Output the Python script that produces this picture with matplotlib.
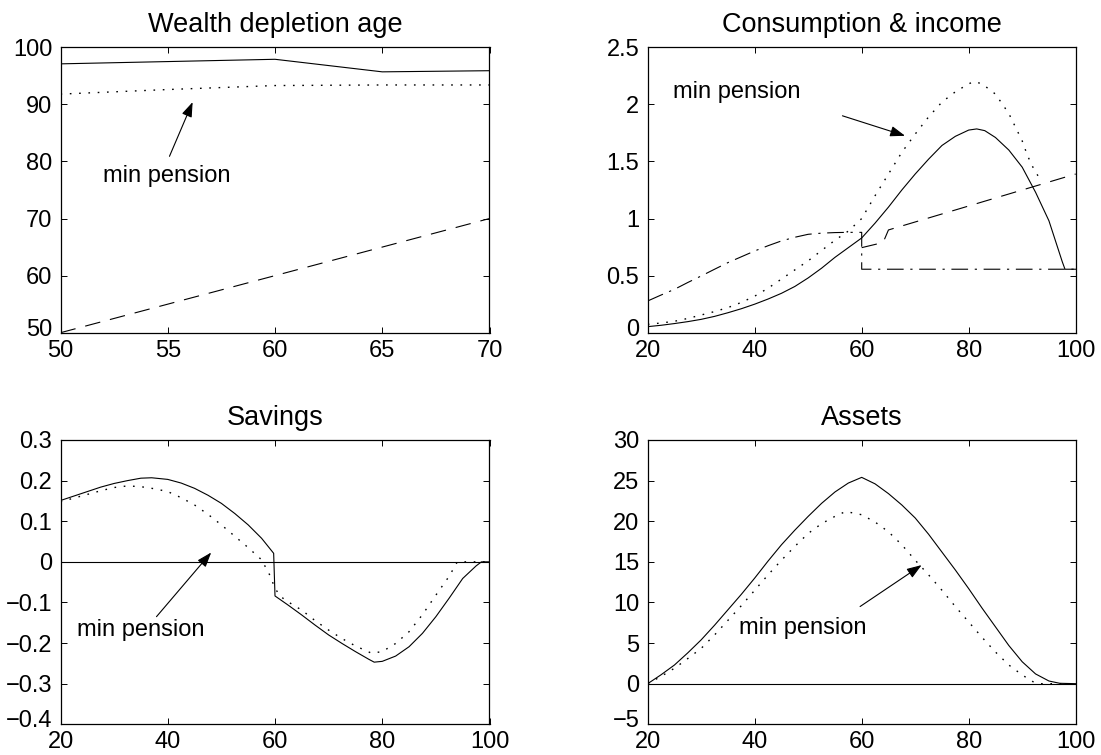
import matplotlib
matplotlib.use("Agg")
import matplotlib.pyplot as plt
from matplotlib.transforms import ScaledTranslation

plt.rcParams['font.family'] = ['Liberation Sans', 'DejaVu Sans']

# ---------------- Data ----------------
# Wealth depletion age
ret_age = [50, 55, 60, 65, 70]
depl_base = [97.1, 97.5, 97.9, 95.7, 95.9]
depl_minpen = [91.8, 92.6, 93.3, 93.4, 93.4]
depl_ret = [50, 55, 60, 65, 70]

# Consumption & income
cons_age = [20, 22.5, 25, 27.5, 30, 32.5, 35, 37.5, 40, 42.5, 45, 47.5, 50, 52.5, 55, 57.5,
            60, 62.5, 65, 67.5, 70, 72.5, 75, 77.5, 80, 81.5, 83, 85, 87.5, 90, 92.5, 95,
            97.5, 98, 100]
cons_base = [0.053, 0.065, 0.08, 0.097, 0.117, 0.143, 0.175, 0.21, 0.25, 0.295, 0.345,
             0.405, 0.48, 0.565, 0.66, 0.745, 0.83, 0.96, 1.10, 1.25, 1.39, 1.52, 1.64,
             1.72, 1.775, 1.785, 1.77, 1.71, 1.60, 1.45, 1.23, 0.98, 0.62, 0.556, 0.556]
consm_age = [20, 22.5, 25, 27.5, 30, 32.5, 35, 37.5, 40, 42.5, 45, 47.5, 50, 52.5, 55, 57.5,
             60, 62.5, 65, 67.5, 70, 72.5, 75, 77.5, 80, 81, 82.5, 85, 87.5, 90, 91, 92, 93]
cons_minpen = [0.073, 0.085, 0.10, 0.125, 0.155, 0.185, 0.22, 0.265, 0.32, 0.39, 0.47,
               0.55, 0.63, 0.72, 0.81, 0.89, 1.00, 1.20, 1.39, 1.58, 1.74, 1.89, 2.02,
               2.11, 2.18, 2.20, 2.18, 2.09, 1.92, 1.68, 1.55, 1.45, 1.37]
inc_age = [20, 22.5, 25, 27.5, 30, 32.5, 35, 37.5, 40, 42.5, 45, 47.5, 50, 52.5, 55, 57.5,
           60, 60, 100]
income = [0.278, 0.33, 0.38, 0.44, 0.497, 0.556, 0.614, 0.665, 0.716, 0.762, 0.804, 0.836,
          0.862, 0.872, 0.877, 0.879, 0.879, 0.556, 0.556]
inc2_age = [60, 64, 65, 100]
income2 = [0.745, 0.79, 0.90, 1.39]

# Savings
sav_age = [20, 22.5, 25, 27.5, 30, 32.5, 35, 37, 40, 42.5, 45, 47.5, 50, 52.5, 55, 57.5,
           59.75, 60, 62.5, 65, 67.5, 70, 72.5, 75, 77.5, 78.5, 80, 82.5, 85, 87.5, 90,
           92.5, 95, 97.5, 98.5, 100]
sav_base = [0.151, 0.162, 0.173, 0.184, 0.193, 0.200, 0.206, 0.207, 0.203, 0.194, 0.181,
            0.164, 0.144, 0.119, 0.091, 0.058, 0.021, -0.084, -0.107, -0.131, -0.156,
            -0.180, -0.201, -0.221, -0.240, -0.247, -0.245, -0.232, -0.209, -0.176,
            -0.135, -0.089, -0.041, -0.010, 0.0, 0.0]
savm_age = [20, 22.5, 25, 27.5, 30, 32.5, 35, 37.5, 40, 42.5, 45, 47.5, 50, 52.5, 55, 57.5,
            59, 60, 61, 62.5, 65, 67.5, 70, 72.5, 75, 77.5, 78, 80, 82.5, 85, 87.5, 90,
            92.5, 94, 100]
sav_minpen = [0.148, 0.157, 0.166, 0.175, 0.183, 0.187, 0.185, 0.180, 0.173, 0.158, 0.140,
              0.117, 0.091, 0.063, 0.035, 0.005, -0.032, -0.065, -0.085, -0.099, -0.119,
              -0.145, -0.168, -0.189, -0.207, -0.222, -0.225, -0.221, -0.201, -0.172,
              -0.130, -0.082, -0.035, 0.0, 0.0]

# Assets
ast_age = [20, 22.5, 25, 27.5, 30, 32.5, 35, 37.5, 40, 42.5, 45, 47.5, 50, 52.5, 55, 57.5,
           60, 62.5, 65, 67.5, 70, 72.5, 75, 77.5, 80, 82.5, 85, 87.5, 90, 92.5, 95, 97, 100]
ast_base = [0, 1.1, 2.3, 3.8, 5.4, 7.2, 9.1, 11.0, 13.0, 15.1, 17.1, 18.9, 20.6, 22.2, 23.6,
            24.7, 25.4, 24.6, 23.4, 22.0, 20.4, 18.4, 16.2, 14.0, 11.7, 9.3, 7.0, 4.7, 2.7,
            1.2, 0.33, 0.05, 0]
astm_age = [20, 22.5, 25, 27.5, 30, 32.5, 35, 37.5, 40, 42.5, 45, 47.5, 50, 52.5, 55, 57,
            60, 62.5, 65, 67.5, 70, 72.5, 75, 77.5, 80, 82.5, 85, 87.5, 90, 92, 93.5, 100]
ast_minpen = [0, 0.9, 1.9, 3.1, 4.35, 6.0, 7.8, 9.6, 11.5, 13.4, 15.2, 16.9, 18.5, 19.7,
              20.6, 21.2, 20.8, 19.9, 18.7, 17.1, 15.2, 13.4, 11.5, 9.5, 7.6, 5.7, 3.9, 2.3,
              1.07, 0.25, 0, 0]

titles = ["Wealth depletion age", "Consumption & income", "Savings", "Assets"]
ann_label = "min pension"

# ---------------- Styles ----------------
LW = 0.8
DOT = (0, (1.2, 5.5))
DASH = (0, (14, 9))
DASHDOT = (0, (15, 6, 2, 6))
TICK_FS = 17
TITLE_FS = 19.5
ANN_FS = 17
arrow_kw = dict(arrowstyle='-|>,head_length=0.45,head_width=0.16', color='k',
                lw=0.8, mutation_scale=20, shrinkA=0, shrinkB=0)

fig = plt.figure(figsize=(11.01, 7.55), dpi=100)
W, H = 1101.0, 755.0
def box(l, t, r, b):
    return [l / W, 1 - b / H, (r - l) / W, (b - t) / H]

ax1 = fig.add_axes(box(60.5, 47.3, 489.5, 332.7))
ax2 = fig.add_axes(box(647.7, 47.3, 1075.7, 332.7))
ax3 = fig.add_axes(box(60.5, 440, 489.5, 724.3))
ax4 = fig.add_axes(box(647.7, 440, 1075.7, 724.3))

def style(ax, title):
    ax.set_title(title, fontsize=TITLE_FS, pad=11)
    ax.tick_params(direction='in', top=True, right=True, length=4, width=0.7,
                   labelsize=TICK_FS)
    ax.tick_params(axis='y', pad=6)
    ax.tick_params(axis='x', pad=5)
    for s in ax.spines.values():
        s.set_linewidth(0.9)

# Panel 1
ax1.plot(ret_age, depl_base, color='k', lw=LW)
ax1.plot(ret_age, depl_minpen, color='k', lw=1.0, linestyle=DOT)
ax1.plot(ret_age, depl_ret, color='k', lw=LW, linestyle=DASH)
ax1.set_xlim(50, 70)
ax1.set_ylim(50, 100)
ax1.set_xticks([50, 55, 60, 65, 70])
ax1.set_yticks([50, 60, 70, 80, 90, 100])
ax1.text(51.98, 77.5, ann_label, fontsize=ANN_FS, ha='left', va='center')
ax1.annotate('', xy=(56.16, 90.4), xytext=(55.08, 80.9), arrowprops=arrow_kw)
style(ax1, titles[0])

# Panel 2
ax2.plot(cons_age, cons_base, color='k', lw=LW)
ax2.plot(consm_age, cons_minpen, color='k', lw=1.0, linestyle=DOT)
ax2.plot(inc_age, income, color='k', lw=LW, linestyle=DASHDOT)
ax2.plot(inc2_age, income2, color='k', lw=LW, linestyle=DASH)
ax2.set_xlim(20, 100)
ax2.set_ylim(0, 2.5)
ax2.set_xticks([20, 40, 60, 80, 100])
ax2.set_yticks([0, 0.5, 1, 1.5, 2, 2.5])
ax2.set_yticklabels(["0", "0.5", "1", "1.5", "2", "2.5"])
ax2.text(24.7, 2.105, ann_label, fontsize=ANN_FS, ha='left', va='center')
ax2.annotate('', xy=(68.1, 1.725), xytext=(56.4, 1.90), arrowprops=arrow_kw)
style(ax2, titles[1])

# Panel 3
ax3.plot(sav_age, sav_base, color='k', lw=LW)
ax3.plot(savm_age, sav_minpen, color='k', lw=1.0, linestyle=DOT)
ax3.plot([20, 100], [0, 0], color='k', lw=LW)
ax3.set_xlim(20, 100)
ax3.set_ylim(-0.4, 0.3)
ax3.set_xticks([20, 40, 60, 80, 100])
ax3.set_yticks([-0.4, -0.3, -0.2, -0.1, 0, 0.1, 0.2, 0.3])
ax3.set_yticklabels(["\u22120.4", "\u22120.3", "\u22120.2", "\u22120.1", "0", "0.1", "0.2", "0.3"])
ax3.text(23.0, -0.168, ann_label, fontsize=ANN_FS, ha='left', va='center')
ax3.annotate('', xy=(48.1, 0.023), xytext=(37.9, -0.135), arrowprops=arrow_kw)
style(ax3, titles[2])

# Panel 4
ax4.plot(ast_age, ast_base, color='k', lw=LW)
ax4.plot(astm_age, ast_minpen, color='k', lw=1.0, linestyle=DOT)
ax4.plot([20, 100], [0, 0], color='k', lw=LW)
ax4.set_xlim(20, 100)
ax4.set_ylim(-5, 30)
ax4.set_xticks([20, 40, 60, 80, 100])
ax4.set_yticks([-5, 0, 5, 10, 15, 20, 25, 30])
ax4.set_yticklabels(["\u22125", "0", "5", "10", "15", "20", "25", "30"])
ax4.text(37.1, 6.9, ann_label, fontsize=ANN_FS, ha='left', va='center')
ax4.annotate('', xy=(71.2, 14.6), xytext=(59.7, 9.5), arrowprops=arrow_kw)
style(ax4, titles[3])

# Lift the lowest y tick label slightly (as in the original MATLAB layout)
for ax in (ax1, ax2, ax3, ax4):
    lbl = ax.yaxis.get_major_ticks()[0].label1
    lbl.set_transform(lbl.get_transform() + ScaledTranslation(0, 4 / 72, fig.dpi_scale_trans))

fig.savefig("out.png", dpi=100)
